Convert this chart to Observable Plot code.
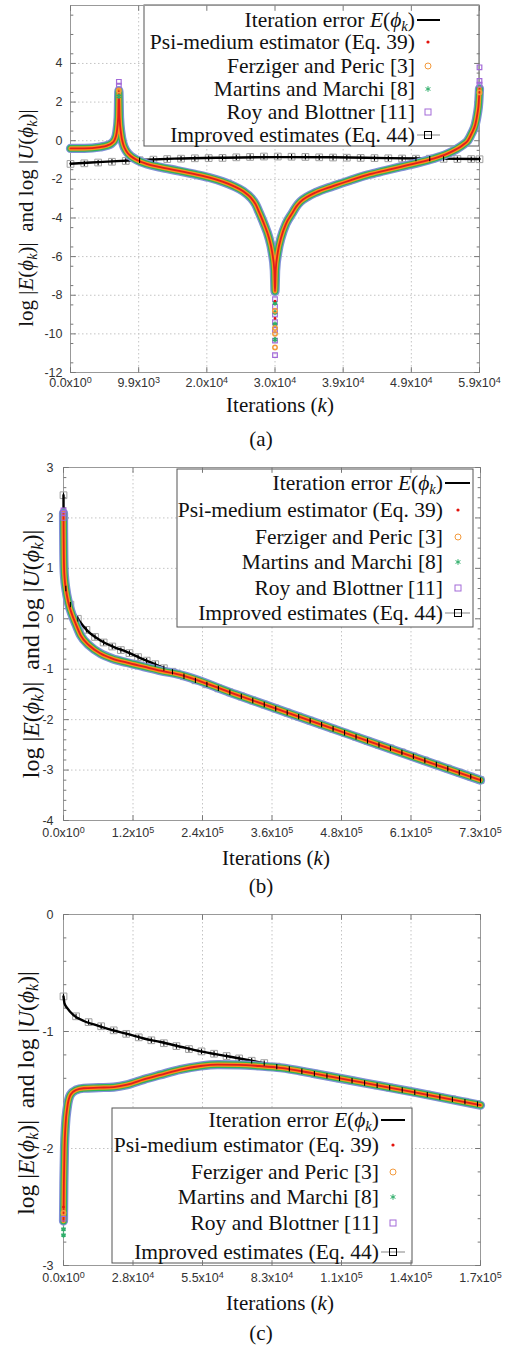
<!DOCTYPE html>
<html>
<head>
<meta charset="utf-8">
<script src="https://cdn.jsdelivr.net/npm/d3@7"></script>
<script src="https://cdn.jsdelivr.net/npm/@observablehq/plot@0.6"></script>
<style>
  html,body{margin:0;padding:0;background:#fff;}
  #wrap{position:relative;width:509px;height:1349px;overflow:hidden;background:#fff;}
  .cap{position:absolute;font-family:"Liberation Serif","Times New Roman",serif;font-size:21px;line-height:1;transform:translate(-50%,-50%);color:#111;white-space:nowrap;}
</style>
</head>
<body>
<div id="wrap"></div>
<script>
// ================= DATA =================
// ---- Panel (a) ----
const xTicksA = [0, 9867, 19733, 29600, 39467, 49333, 59200];
const xTickLabelsA = ["0.0x10^0","9.9x10^3","2.0x10^4","3.0x10^4","3.9x10^4","4.9x10^4","5.9x10^4"];
const yTicksA = [-12,-10,-8,-6,-4,-2,0,2,4];
const kErrA = [0, 3000, 6000, 10000, 15000, 22000, 30000, 38000, 46000, 53000, 59200];
const errA  = [-1.19, -1.13, -1.07, -1.0, -0.93, -0.88, -0.85, -0.86, -0.9, -0.93, -0.95];
const kImpA = [0,2000,4000,6000,8000,10000,12000,14000,16000,18000,20000,22000,24000,26000,28000,30000,32000,34000,36000,38000,40000,42000,44000,46000,48000,50000,52000,54000,56000,58000,59200];
const impA  = [-1.20,-1.17,-1.13,-1.09,-1.05,-1.01,-0.98,-0.95,-0.93,-0.91,-0.90,-0.89,-0.86,-0.84,-0.82,-0.82,-0.83,-0.84,-0.86,-0.87,-0.88,-0.89,-0.90,-0.91,-0.92,-0.93,-0.93,-0.94,-0.95,-0.95,-0.96];
const kEstA = [0,2000,4300,5300,5900,6400,6700,6900,7000,7100,7300,7600,8100,8800,9600,11000,13000,15500,17800,20000,22000,23600,25000,26100,26800,27300,28000,28700,29200,29500,29600,29700,30000,30500,31200,32100,32700,33300,34300,35500,38000,40500,43000,45500,47800,50200,52500,54500,55800,56800,57500,58100,58600,58900,59100,59200];
const psiA  = [-0.40,-0.40,-0.33,-0.25,-0.15,0.05,0.45,1.2,2.6,1.2,0.4,-0.15,-0.55,-0.82,-1.0,-1.2,-1.37,-1.55,-1.72,-1.9,-2.12,-2.35,-2.62,-2.95,-3.3,-3.7,-4.3,-5.0,-5.8,-6.7,-7.8,-6.7,-5.8,-5.0,-4.3,-3.75,-3.4,-3.15,-2.9,-2.68,-2.35,-2.05,-1.77,-1.55,-1.35,-1.15,-0.93,-0.68,-0.45,-0.22,0.0,0.4,0.85,1.4,2.0,2.7];
const ferzA = psiA, martA = psiA, royA = psiA;   // the four estimators coincide
const royExtraA  = [[7000,3.05],[7000,2.85],[29600,-8.2],[29600,-8.6],[29600,-9.0],[29600,-9.4],[29600,-9.8],[29600,-10.35],[29600,-11.1],[59200,3.8],[59200,3.1],[59200,2.9]];
const martExtraA = [[29600,-8.4],[29600,-8.9],[29600,-9.5],[29600,-10.3],[7000,2.3]];
const ferzExtraA = [[29600,-8.8],[29600,-9.7],[29600,-10.0],[29600,-10.7],[7000,2.6],[59200,2.5]];
const psiExtraA  = [[29600,-8.3],[29600,-9.2]];

// ---- Panel (b) ----
const xTicksB = [0, 121167, 242333, 363500, 484667, 605833, 727000];
const xTickLabelsB = ["0.0x10^0","1.2x10^5","2.4x10^5","3.6x10^5","4.8x10^5","6.1x10^5","7.3x10^5"];
const yTicksB = [-4,-3,-2,-1,0,1,2,3];
const kErrB = [0,150,400,800,1500,3000,6500,12000,18000,28000,41000,64500,88000,111000,134000,157000,178000,200000,300000,400000,500000,600000,727000];
const errB  = [2.45,2.0,1.6,1.25,1.0,0.75,0.5,0.28,0.13,-0.05,-0.23,-0.43,-0.56,-0.66,-0.78,-0.89,-0.99,-1.1,-1.5,-1.9,-2.3,-2.7,-3.2];
const kImpB = [0,4000,12000,25000,40000,55000,70000,85000,100000,115000,130000,145000,160000,175000,190000,210000,230000,250000,270000,290000,310000,330000,350000,370000,390000,410000,430000,450000,470000,490000,510000,530000,550000,570000,590000,610000,630000,650000,670000,690000,710000,727000];
const impB  = [2.45,0.6,0.28,0.0,-0.22,-0.36,-0.47,-0.55,-0.62,-0.68,-0.76,-0.83,-0.9,-0.98,-1.05,-1.14,-1.22,-1.30,-1.38,-1.46,-1.54,-1.62,-1.70,-1.78,-1.86,-1.94,-2.02,-2.10,-2.18,-2.26,-2.34,-2.42,-2.50,-2.57,-2.65,-2.73,-2.81,-2.89,-2.97,-3.05,-3.13,-3.2];
const kEstB = [0,200,500,1000,2000,4000,9000,15000,22000,30000,45000,64500,85000,111000,140000,169000,200000,300000,400000,500000,600000,727000];
const psiB  = [2.1,1.7,1.3,1.0,0.8,0.6,0.3,0.08,-0.12,-0.33,-0.53,-0.69,-0.79,-0.87,-0.95,-1.03,-1.1,-1.5,-1.9,-2.3,-2.7,-3.2];
const ferzB = psiB, martB = psiB, royB = psiB;
const royExtraB  = [[0,2.0],[0,2.1],[0,2.15]];
const martExtraB = [], ferzExtraB = [], psiExtraB = [];

// ---- Panel (c) ----
const xTicksC = [0, 27700, 55400, 83100, 110800, 138500, 166200];
const xTickLabelsC = ["0.0x10^0","2.8x10^4","5.5x10^4","8.3x10^4","1.1x10^5","1.4x10^5","1.7x10^5"];
const yTicksC = [-3,-2,-1,0];
const kErrC = [0,400,1500,4000,8100,12100,18000,25400,32000,38700,46600,54600,65000,75000,86500,100000,120000,140000,166200];
const errC  = [-0.70,-0.76,-0.80,-0.86,-0.91,-0.94,-0.98,-1.02,-1.06,-1.09,-1.13,-1.17,-1.21,-1.25,-1.30,-1.36,-1.44,-1.52,-1.63];
const kImpC = [0,5000,10000,15000,20000,25000,30000,35000,40000,45000,50000,55000,60000,65000,70000,75000,80000,85000,90000,95000,100000,105000,110000,115000,120000,125000,130000,135000,140000,145000,150000,155000,160000,165000];
const impC  = [-0.70,-0.87,-0.92,-0.955,-0.99,-1.02,-1.05,-1.075,-1.10,-1.125,-1.15,-1.17,-1.19,-1.21,-1.23,-1.25,-1.27,-1.30,-1.32,-1.34,-1.36,-1.38,-1.40,-1.42,-1.44,-1.46,-1.48,-1.50,-1.52,-1.54,-1.56,-1.58,-1.60,-1.62];
const kEstC = [0,150,400,800,1500,2800,5000,8000,14000,20000,25400,32000,38700,46600,54600,61400,70000,78000,86500,100000,120000,140000,166200];
const psiC  = [-2.62,-2.3,-2.0,-1.8,-1.65,-1.54,-1.50,-1.485,-1.48,-1.475,-1.455,-1.41,-1.37,-1.325,-1.295,-1.283,-1.285,-1.295,-1.31,-1.36,-1.44,-1.52,-1.63];
const ferzC = psiC, martC = psiC, royC = psiC;
const royExtraC  = [[0,-2.6]];
const martExtraC = [[0,-2.69],[0,-2.74]];
const ferzExtraC = [[0,-2.55]];
const psiExtraC  = [[0,-2.5]];

// ---- Texts ----
const legendLabels = [
  [["Iteration error "],["E","i"],["("],["\u03D5","i"],["k","sub"],[")"]],
  [["Psi-medium estimator (Eq. 39)"]],
  [["Ferziger and Peric [3]"]],
  [["Martins and Marchi [8]"]],
  [["Roy and Blottner [11]"]],
  [["Improved estimates (Eq. 44)"]]
];
const yLabelParts = [["log |"],["E","i"],["("],["\u03D5","i"],["k","sub"],[")|  and log |"],["U","i"],["("],["\u03D5","i"],["k","sub"],[")|"]];
const xLabelParts = [["Iterations ("],["k","i"],[")"]];
const captions = ["(a)","(b)","(c)"];

// ================= RENDER =================
const serif = '"Liberation Serif","Times New Roman",serif';
const sans = '"Liberation Sans",Arial,sans-serif';
const COL = {psi:"#e3120b", ferz:"#f39a3c", mart:"#2fae6a", roy:"#a36ad8"};
const BAND = {roy:["#7f8fd6",9.2], mart:["#2fb35a",6.8], ferz:["#f7941d",4.4], psi:["#e41a1c",1.8]};

const series = (ks, vs) => ks.map((k,i)=>({k, v: vs[i]}));
const pairs = a => a.map(([k,v])=>({k,v}));
const symTick = (dx,dy) => ({draw(ctx,size){const l=Math.sqrt(size); ctx.moveTo(0,0); ctx.lineTo(dx*l,dy*l);}});
const tickR = symTick(1,0), tickL = symTick(-1,0), tickU = symTick(0,-1), tickD = symTick(0,1);
const vBar = {draw(ctx,size){const l=Math.sqrt(size)/2; ctx.moveTo(0,-l); ctx.lineTo(0,l);}};

function rich(sel, parts){
  let sub = false;
  parts.forEach(([s, st])=>{
    const ts = sel.append("tspan").text(s);
    if (st === "i") ts.attr("font-style","italic");
    if (st === "sub") { ts.attr("font-style","italic").attr("font-size","0.68em").attr("dy", 4); sub = true; }
    else if (sub) { ts.attr("dy", -4); sub = false; }
  });
}

function panel(cfg){
  const curve = "monotone-x";
  const err = series(cfg.kErr, cfg.err), imp = series(cfg.kImp, cfg.imp);
  const xLab = new Map(cfg.xTicks.map((t,i)=>[t, cfg.xTickLabels[i]]));
  const grid = {stroke:"#c4c4c4", strokeOpacity:1, strokeDasharray:"1.5,2.5"};
  const tk = {stroke:"#777", strokeWidth:1};
  const est = (key, ks, vs) => Plot.line(series(ks, vs), {x:"k", y:"v", stroke: BAND[key][0], strokeWidth: BAND[key][1], curve});
  const marks = [
    Plot.gridX(cfg.xTicks, grid),
    Plot.gridY(cfg.yTicks, grid),
    Plot.frame({stroke:"#999"}),
    Plot.axisY(cfg.yTicks, {anchor:"left", tickSize:0, tickPadding: cfg.yPad, tickFormat: d => String(d), label:null}),
    Plot.axisX(cfg.xTicks, {anchor:"bottom", tickSize:0, tickPadding: cfg.xPad, tickFormat: d => xLab.get(d), label:null}),
    Plot.dot(cfg.yTicks, {y: d=>d, frameAnchor:"left", symbol: tickR, r: 3, ...tk}),
    Plot.dot(cfg.yTicks, {y: d=>d, frameAnchor:"right", symbol: tickL, r: 3, ...tk}),
    Plot.dot(cfg.yMinor, {y: d=>d, frameAnchor:"left", symbol: tickR, r: 1.6, ...tk}),
    Plot.dot(cfg.yMinor, {y: d=>d, frameAnchor:"right", symbol: tickL, r: 1.6, ...tk}),
    Plot.dot(cfg.xTicks, {x: d=>d, frameAnchor:"bottom", symbol: tickU, r: 3, ...tk}),
    Plot.dot(cfg.xTicks, {x: d=>d, frameAnchor:"top", symbol: tickD, r: 3, ...tk}),
    Plot.dot(imp, {x:"k", y:"v", symbol:"square", r: 3.8, stroke:"#a0a0a0", fill:"none", strokeWidth:1}),
    Plot.line(err, {x:"k", y:"v", stroke:"#000", strokeWidth:2.4, curve}),
    est("roy", cfg.kEst, cfg.roy),
    est("mart", cfg.kEst, cfg.mart),
    est("ferz", cfg.kEst, cfg.ferz),
    est("psi", cfg.kEst, cfg.psi),
    Plot.dot(pairs(cfg.royX), {x:"k", y:"v", symbol:"square", r:2.6, stroke: COL.roy, fill:"none", strokeWidth:1.2}),
    Plot.dot(pairs(cfg.martX), {x:"k", y:"v", symbol:"asterisk", r:2.4, stroke: COL.mart}),
    Plot.dot(pairs(cfg.ferzX), {x:"k", y:"v", symbol:"circle", r:2.2, stroke: COL.ferz, fill:"none"}),
    Plot.dot(pairs(cfg.psiX), {x:"k", y:"v", r:1.3, fill: COL.psi, stroke:"none"}),
    Plot.dot(imp, {x:"k", y:"v", symbol: vBar, r: 3, stroke:"#000", strokeWidth:1.1})
  ];
  const svg = Plot.plot({
    width: 509, height: cfg.height,
    marginTop: cfg.mt, marginBottom: cfg.mb, marginLeft: cfg.ml, marginRight: cfg.mr,
    x: {domain: [0, cfg.xTicks[cfg.xTicks.length-1]]},
    y: {domain: cfg.yDomain},
    style: {fontFamily: sans, fontSize: "12.5px", color: "#333", background: "#fff"},
    marks
  });
  const s = d3.select(svg);
  s.selectAll('g[aria-label="x-axis tick label"] text').each(function(){
    const [m, e] = this.textContent.split("^");
    const t = d3.select(this); t.text(null);
    t.append("tspan").text(m);
    t.append("tspan").attr("dy","-0.45em").attr("font-size","0.72em").text(e);
  });
  const yl = s.append("text").attr("transform", `translate(${cfg.ylx},${cfg.yly}) rotate(-90)`)
    .attr("text-anchor","middle").attr("fill","#111")
    .style("font-family", serif).style("font-size", cfg.ylfs + "px");
  rich(yl, yLabelParts);
  const xl = s.append("text").attr("x", cfg.xlx).attr("y", cfg.xly).attr("text-anchor","middle").attr("fill","#111")
    .style("font-family", serif).style("font-size","21px");
  rich(xl, xLabelParts);
  const L = cfg.legend;
  const frameEl = s.select('[aria-label="frame"]').node();
  const box = document.createElementNS("http://www.w3.org/2000/svg", "rect");
  svg.insertBefore(box, frameEl);
  d3.select(box).attr("x",L.x0).attr("y",L.y0).attr("width",L.x1-L.x0).attr("height",L.y1-L.y0)
    .attr("fill","#fff").attr("stroke","#555").attr("stroke-width",1);
  const g = s.append("g");
  legendLabels.forEach((parts,i)=>{
    const t = g.append("text").attr("x",L.tx).attr("y",L.rows[i]+7).attr("text-anchor","end").attr("fill","#111")
      .style("font-family", serif).style("font-size", L.fs + "px");
    rich(t, parts);
  });
  const r = L.rows;
  g.append("line").attr("x1",L.lx[0]).attr("x2",L.lx[1]).attr("y1",r[0]).attr("y2",r[0]).attr("stroke","#000").attr("stroke-width",2);
  g.append("circle").attr("cx",L.sx).attr("cy",r[1]).attr("r",1.6).attr("fill",COL.psi);
  g.append("circle").attr("cx",L.sx).attr("cy",r[2]).attr("r",3).attr("fill","none").attr("stroke",COL.ferz);
  g.append("path").attr("transform",`translate(${L.sx},${r[3]})`).attr("d", d3.symbol(d3.symbolAsterisk, 22)()).attr("fill","none").attr("stroke",COL.mart);
  g.append("rect").attr("x",L.sx-3).attr("y",r[4]-3).attr("width",6).attr("height",6).attr("fill","none").attr("stroke",COL.roy);
  g.append("line").attr("x1",L.lx[0]).attr("x2",L.lx[1]).attr("y1",r[5]).attr("y2",r[5]).attr("stroke","#999").attr("stroke-width",1.2);
  g.append("rect").attr("x",L.sx-3.5).attr("y",r[5]-3.5).attr("width",7).attr("height",7).attr("fill","none").attr("stroke","#000");
  svg.style.position = "absolute"; svg.style.left = "0px"; svg.style.top = cfg.top + "px";
  return svg;
}

const minor = (lo, hi, step) => d3.range(lo, hi + 1e-9, step).filter(v => Math.abs(v - Math.round(v)) > 1e-6);

const cfgs = [
  {top:0, height:420, mt:5, mb:48, ml:70, mr:30, xPad:6, yPad:8,
   xTicks:xTicksA, xTickLabels:xTickLabelsA, yTicks:yTicksA, yDomain:[-12,7], yMinor: minor(-12,7,0.5),
   kErr:kErrA, err:errA, kImp:kImpA, imp:impA, kEst:kEstA, psi:psiA, ferz:ferzA, mart:martA, roy:royA,
   royX:royExtraA, martX:martExtraA, ferzX:ferzExtraA, psiX:psiExtraA,
   ylx:33, yly:218, ylfs:21, xlx:280, xly:412,
   legend:{x0:144, y0:5, x1:479, y1:146, tx:415, sx:428, lx:[417,440], rows:[20,42,66,89,112,135], fs:21.5}},
  {top:455, height:420, mt:12, mb:55, ml:63, mr:29, xPad:8, yPad:10,
   xTicks:xTicksB, xTickLabels:xTickLabelsB, yTicks:yTicksB, yDomain:[-4,3], yMinor: minor(-4,3,0.2),
   kErr:kErrB, err:errB, kImp:kImpB, imp:impB, kEst:kEstB, psi:psiB, ferz:ferzB, mart:martB, roy:royB,
   royX:royExtraB, martX:martExtraB, ferzX:ferzExtraB, psiX:psiExtraB,
   ylx:39, yly:199, ylfs:24, xlx:276, xly:410,
   legend:{x0:177, y0:14, x1:473, y1:172, tx:443, sx:458, lx:[445,470], rows:[28,55,82,107,133,158], fs:21.5}},
  {top:902, height:418, mt:12, mb:55, ml:63, mr:29, xPad:8, yPad:10,
   xTicks:xTicksC, xTickLabels:xTickLabelsC, yTicks:yTicksC, yDomain:[-3,0], yMinor: minor(-3,0,0.2),
   kErr:kErrC, err:errC, kImp:kImpC, imp:impC, kEst:kEstC, psi:psiC, ferz:ferzC, mart:martC, roy:royC,
   royX:royExtraC, martX:martExtraC, ferzX:ferzExtraC, psiX:psiExtraC,
   ylx:34, yly:191, ylfs:23.5, xlx:280, xly:408,
   legend:{x0:112, y0:206, x1:412, y1:361, tx:379, sx:393, lx:[381,405], rows:[218,243,270,295,321,350], fs:21.5}}
];

const wrap = document.getElementById("wrap");
cfgs.forEach(c => wrap.appendChild(panel(c)));
const capPos = [[261,439],[261,886],[261,1333]];
captions.forEach((t,i)=>{
  const d = document.createElement("div");
  d.className = "cap"; d.textContent = t;
  d.style.left = capPos[i][0] + "px"; d.style.top = capPos[i][1] + "px";
  wrap.appendChild(d);
});
</script>
</body>
</html>
